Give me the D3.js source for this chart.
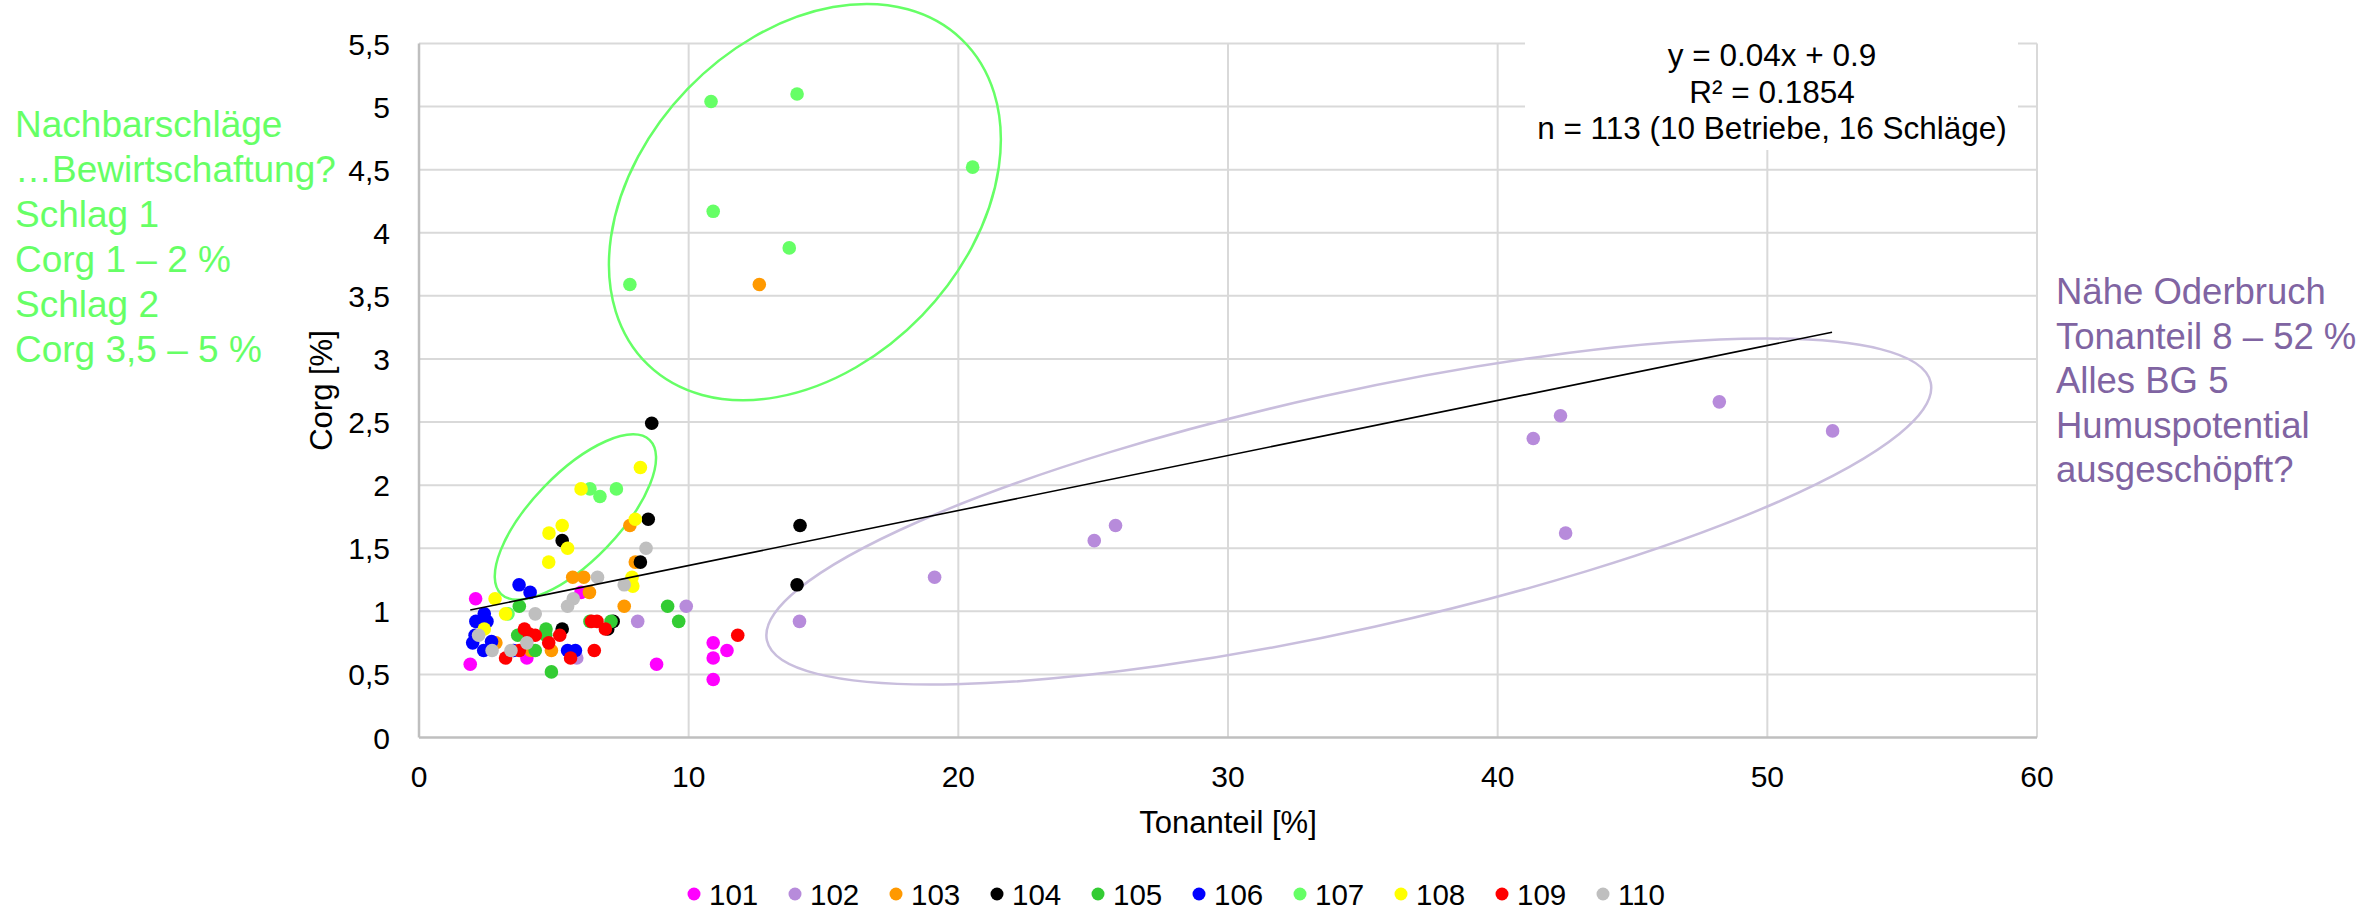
<!DOCTYPE html>
<html>
<head>
<meta charset="utf-8">
<script src="https://cdn.jsdelivr.net/npm/d3@7"></script>
<style>
  body { margin: 0; background: #fff; }
  text { font-family: "Liberation Sans", Arial, sans-serif; }
</style>
</head>
<body>
<div class="graph"></div>
<script>
// series (Betriebe) and their colours
var series = ["101", "102", "103", "104", "105", "106", "107", "108", "109", "110"]
var colors = ["#FF00FF", "#B78BDB", "#FF9900", "#000000", "#33CC33", "#0000FF", "#66FF66", "#FFFF00", "#FF0000", "#BFBFBF"]

// Tonanteil [%] per series
var tonanteil = [
  [2.10, 1.90, 4.00, 6.01, 8.81, 10.91, 11.42, 10.91, 10.91],
  [5.85, 8.11, 9.91, 14.11, 19.12, 25.04, 25.83, 41.32, 42.33, 42.52, 48.22, 52.42],
  [12.62, 7.82, 8.02, 5.70, 6.11, 6.32, 7.61, 2.85, 4.15, 4.91],
  [8.63, 8.50, 5.31, 8.21, 14.13, 14.02, 5.31, 7.20, 7.00],
  [3.72, 3.66, 4.71, 4.70, 4.31, 4.91, 6.34, 7.12, 9.22, 9.63],
  [3.71, 4.12, 2.42, 2.11, 2.52, 2.08, 1.99, 2.69, 2.40, 3.50, 5.51, 5.80],
  [10.83, 14.02, 20.53, 10.91, 13.73, 7.82, 6.34, 6.71, 7.32, 3.30],
  [8.21, 6.01, 8.02, 5.31, 4.82, 5.51, 4.81, 7.90, 7.93, 2.82, 3.21, 2.42],
  [3.21, 3.72, 3.91, 4.09, 4.31, 4.81, 5.22, 5.62, 6.40, 6.60, 6.91, 6.50, 11.82],
  [8.42, 7.61, 6.62, 5.72, 5.51, 4.31, 2.21, 2.71, 3.41, 4.00]
]

// Corg [%] per series
var corg = [
  [1.10, 0.58, 0.63, 1.15, 0.58, 0.75, 0.69, 0.63, 0.46],
  [0.63, 0.92, 1.04, 0.92, 1.27, 1.56, 1.68, 2.37, 2.55, 1.62, 2.66, 2.43],
  [3.59, 1.68, 1.39, 1.27, 1.27, 1.15, 1.04, 0.75, 0.69, 0.69],
  [2.49, 1.73, 1.56, 1.39, 1.68, 1.21, 0.86, 0.92, 0.86],
  [1.04, 0.81, 0.86, 0.81, 0.69, 0.52, 0.92, 0.92, 1.04, 0.92],
  [1.21, 1.15, 0.98, 0.92, 0.92, 0.81, 0.75, 0.76, 0.69, 0.69, 0.69, 0.69],
  [5.04, 5.10, 4.52, 4.17, 3.88, 3.59, 1.97, 1.91, 1.97, 0.98],
  [2.14, 1.97, 1.73, 1.68, 1.62, 1.50, 1.39, 1.27, 1.20, 1.10, 0.98, 0.86],
  [0.63, 0.69, 0.86, 0.82, 0.81, 0.75, 0.81, 0.63, 0.92, 0.92, 0.86, 0.69, 0.81],
  [1.50, 1.21, 1.27, 1.10, 1.04, 0.98, 0.81, 0.69, 0.69, 0.75]
]

var xTicks = [0, 10, 20, 30, 40, 50, 60]
var yTicks = [0, 0.5, 1, 1.5, 2, 2.5, 3, 3.5, 4, 4.5, 5, 5.5]

// linear trend over all points
var trendX = [1.9, 52.4]
var trendSlope = 0.0436
var trendIntercept = 0.927
var trendLabel = ["y = 0.04x + 0.9", "R² = 0.1854", "n = 113 (10 Betriebe, 16 Schläge)"]

var greenNote = ["Nachbarschläge", "…Bewirtschaftung?", "Schlag 1", "Corg 1 – 2 %", "Schlag 2", "Corg 3,5 – 5 %"]
var purpleNote = ["Nähe Oderbruch", "Tonanteil 8 – 52 %", "Alles BG 5", "Humuspotential", "ausgeschöpft?"]

var W = 2379, H = 912
var x = d3.scaleLinear().domain([0, 60]).range([419, 2037])
var y = d3.scaleLinear().domain([0, 5.5]).range([737.5, 43.5])
var fmt = function(d){ return String(d).replace(".", ",") }

var svg = d3.select(".graph").append("svg")
  .attr("width", W)
  .attr("height", H)
  .style("display", "block")

svg.append("rect").attr("width", W).attr("height", H).attr("fill", "#fff")

// grid
svg.selectAll("line.hgrid")
  .data(yTicks.slice(1))
  .enter().append("line")
  .attr("class", "hgrid")
  .attr("x1", x(0)).attr("x2", x(60))
  .attr("y1", function(d){ return y(d) })
  .attr("y2", function(d){ return y(d) })
  .attr("stroke", "#D9D9D9").attr("stroke-width", 2)

svg.selectAll("line.vgrid")
  .data(xTicks.slice(1))
  .enter().append("line")
  .attr("class", "vgrid")
  .attr("y1", y(0)).attr("y2", y(5.5))
  .attr("x1", function(d){ return x(d) })
  .attr("x2", function(d){ return x(d) })
  .attr("stroke", "#D9D9D9").attr("stroke-width", 2)

// axis lines
svg.append("line")
  .attr("x1", x(0)).attr("x2", x(60)).attr("y1", y(0)).attr("y2", y(0))
  .attr("stroke", "#BFBFBF").attr("stroke-width", 2.5)
svg.append("line")
  .attr("x1", x(0)).attr("x2", x(0)).attr("y1", y(0)).attr("y2", y(5.5))
  .attr("stroke", "#BFBFBF").attr("stroke-width", 2.5)

// tick labels
svg.selectAll("text.xtick")
  .data(xTicks)
  .enter().append("text")
  .attr("class", "xtick")
  .attr("x", function(d){ return x(d) })
  .attr("y", 787)
  .attr("text-anchor", "middle")
  .attr("font-size", 30)
  .attr("fill", "#000")
  .text(function(d){ return d })

svg.selectAll("text.ytick")
  .data(yTicks)
  .enter().append("text")
  .attr("class", "ytick")
  .attr("x", 390)
  .attr("y", function(d){ return y(d) + 11 })
  .attr("text-anchor", "end")
  .attr("font-size", 30)
  .attr("fill", "#000")
  .text(fmt)

// axis titles
svg.append("text")
  .attr("x", (x(0) + x(60)) / 2).attr("y", 833)
  .attr("text-anchor", "middle").attr("font-size", 31)
  .text("Tonanteil [%]")
svg.append("text")
  .attr("transform", "translate(332," + (y(0) + y(5.5)) / 2 + ") rotate(-90)")
  .attr("text-anchor", "middle").attr("font-size", 31)
  .text("Corg [%]")

// white label box for the regression text
svg.append("rect")
  .attr("x", 1525).attr("y", 30).attr("width", 493).attr("height", 120)
  .attr("fill", "#fff")
svg.selectAll("text.eq")
  .data(trendLabel)
  .enter().append("text")
  .attr("class", "eq")
  .attr("x", 1772)
  .attr("y", function(d, i){ return 66 + i * 36.5 })
  .attr("text-anchor", "middle")
  .attr("font-size", 31.5)
  .text(function(d){ return d })

// ellipses (centre in data units, radii in px, tilt in degrees)
var ellipses = [
  { cx: 14.31, cy: 4.243, rx: 226, ry: 163, rot: -46, color: "#66FF66", w: 2.5 },
  { cx: 5.80, cy: 1.747, rx: 107, ry: 43.5, rot: -46, color: "#66FF66", w: 2.5 },
  { cx: 34.48, cy: 1.791, rx: 596, ry: 118, rot: -12.5, color: "#C9BEDD", w: 2.5 }
]
svg.selectAll("ellipse")
  .data(ellipses)
  .enter().append("ellipse")
  .attr("transform", function(d){ return "translate(" + x(d.cx) + "," + y(d.cy) + ") rotate(" + d.rot + ")" })
  .attr("rx", function(d){ return d.rx })
  .attr("ry", function(d){ return d.ry })
  .attr("fill", "none")
  .attr("stroke", function(d){ return d.color })
  .attr("stroke-width", function(d){ return d.w })

// points, series by series
for (var s = 0; s < series.length; s++) {
  var pts = tonanteil[s].map(function(v, i){ return [v, corg[s][i]] })
  svg.append("g").selectAll("circle")
    .data(pts)
    .enter().append("circle")
    .attr("cx", function(d){ return x(d[0]) })
    .attr("cy", function(d){ return y(d[1]) })
    .attr("r", 6.8)
    .attr("fill", colors[s])
}

// trend line
svg.append("line")
  .attr("x1", x(trendX[0])).attr("y1", y(trendIntercept + trendSlope * trendX[0]))
  .attr("x2", x(trendX[1])).attr("y2", y(trendIntercept + trendSlope * trendX[1]))
  .attr("stroke", "#000").attr("stroke-width", 1.6)

// side notes
svg.selectAll("text.gnote")
  .data(greenNote)
  .enter().append("text")
  .attr("class", "gnote")
  .attr("x", 15)
  .attr("y", function(d, i){ return 137 + i * 45 })
  .attr("font-size", 37)
  .attr("fill", "#66FF66")
  .text(function(d){ return d })

svg.selectAll("text.pnote")
  .data(purpleNote)
  .enter().append("text")
  .attr("class", "pnote")
  .attr("x", 2056)
  .attr("y", function(d, i){ return 304 + i * 44.5 })
  .attr("font-size", 36.5)
  .attr("fill", "#8064A2")
  .text(function(d){ return d })

// legend
var legend = svg.selectAll("g.legend")
  .data(series)
  .enter().append("g")
  .attr("class", "legend")
  .attr("transform", function(d, i){ return "translate(" + (694 + i * 101) + ",894)" })
legend.append("circle")
  .attr("r", 6.5)
  .attr("fill", function(d, i){ return colors[i] })
legend.append("text")
  .attr("x", 15).attr("y", 10.5)
  .attr("font-size", 29.5)
  .text(function(d){ return d })
</script>
</body>
</html>
